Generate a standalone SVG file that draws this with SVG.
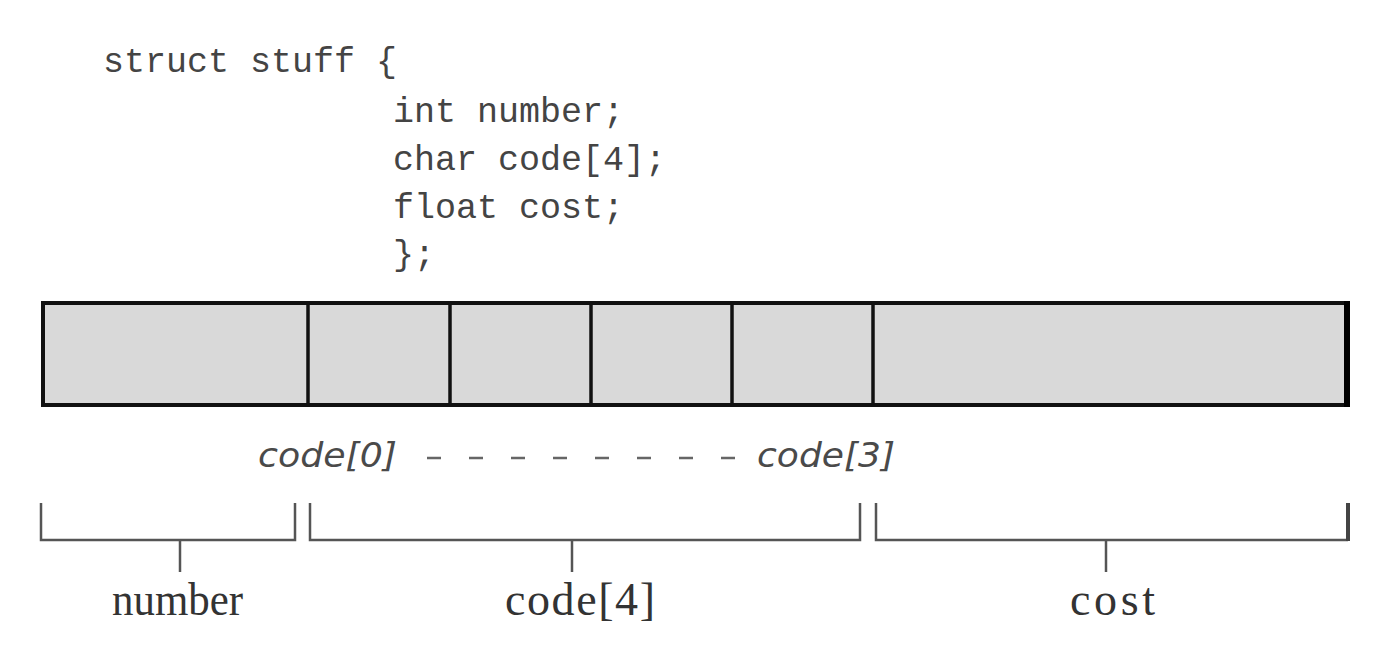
<svg xmlns="http://www.w3.org/2000/svg" width="1388" height="655" viewBox="0 0 1388 655">
<style>
.code{font-family:"Liberation Mono","Courier New",monospace;font-size:35px;fill:#444}
.idx{font-family:"DejaVu Sans",Verdana,sans-serif;font-style:italic;font-size:33px;fill:#4a4a4a}
.lbl{font-family:"Liberation Serif","Times New Roman",serif;font-size:46px;fill:#333}
.cell{fill:#d9d9d9;stroke:#111;stroke-width:4}
.div{stroke:#111;stroke-width:3.5}
.br{fill:none;stroke:#555;stroke-width:2.5}
</style>
<rect width="1388" height="655" fill="#fff"/>
<g id="code-block">
<text class="code" x="103" y="72">struct stuff {</text>
<text class="code" x="393" y="122">int number;</text>
<text class="code" x="393" y="170">char code[4];</text>
<text class="code" x="393" y="218">float cost;</text>
<text class="code" x="393" y="265">};</text>
</g>
<g id="memory">
<rect class="cell" x="43" y="303" width="1304" height="102"/>
<line x1="1347" y1="301" x2="1347" y2="407" stroke="#000" stroke-width="6"/>
<line class="div" x1="308" y1="303" x2="308" y2="405"/>
<line class="div" x1="450" y1="303" x2="450" y2="405"/>
<line class="div" x1="591" y1="303" x2="591" y2="405"/>
<line class="div" x1="732" y1="303" x2="732" y2="405"/>
<line class="div" x1="873" y1="303" x2="873" y2="405"/>
</g>
<g id="index-labels">
<text class="idx" x="258" y="467" textLength="139" lengthAdjust="spacingAndGlyphs">code[0]</text>
<text class="idx" x="757" y="467" textLength="138" lengthAdjust="spacingAndGlyphs">code[3]</text>
</g>
<g id="connectors">
<line x1="427" y1="458" x2="735" y2="458" stroke="#666" stroke-width="2.5" stroke-dasharray="14 28"/>
<path class="br" d="M41,503 V540 H295 V503"/>
<line class="br" x1="180" y1="540" x2="180" y2="572"/>
<path class="br" d="M310,503 V540 H860 V503"/>
<line class="br" x1="572" y1="540" x2="572" y2="572"/>
<path class="br" d="M876,503 V540 H1348"/>
<line x1="1348" y1="503" x2="1348" y2="541" stroke="#444" stroke-width="4"/>
<line class="br" x1="1106" y1="540" x2="1106" y2="572"/>
</g>
<g id="number-label"><text class="lbl" x="112" y="615" textLength="131" lengthAdjust="spacingAndGlyphs">number</text></g>
<g id="code4-label"><text class="lbl" x="505" y="615" textLength="150">code[4]</text></g>
<g id="cost-label"><text class="lbl" x="1070" y="615" textLength="85">cost</text></g>
</svg>
